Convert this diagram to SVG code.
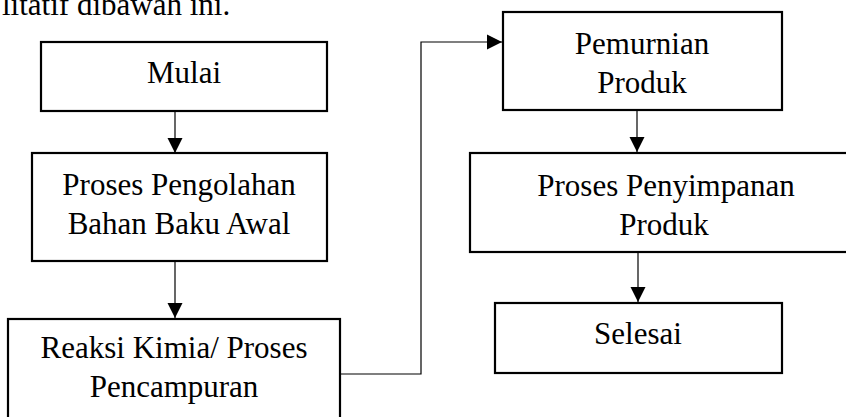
<svg xmlns="http://www.w3.org/2000/svg" width="846" height="417" viewBox="0 0 846 417">
<defs>
<style>
.box{fill:#fff;stroke:#000;stroke-width:2.2}
.lbl{font-family:"Liberation Serif","Times New Roman",serif;font-size:31px;fill:#000;text-anchor:middle}
.con{fill:none;stroke:#000;stroke-width:1.2}
</style>
<marker id="ah" markerUnits="userSpaceOnUse" markerWidth="16" markerHeight="16" viewBox="0 0 16 16" refX="15" refY="8" orient="auto">
<path d="M0,0.5 L15,8 L0,15.5 Z" fill="#000"/>
</marker>
</defs>
<rect width="846" height="417" fill="#fff"/>
<text x="2" y="15" style="font-family:'Liberation Serif','Times New Roman',serif;font-size:31px">litatif dibawah ini.</text>
<g id="connectors">
<line class="con" x1="175" y1="112" x2="175" y2="153" marker-end="url(#ah)"/>
<line class="con" x1="175" y1="262" x2="175" y2="318" marker-end="url(#ah)"/>
<polyline class="con" points="341,374 421,374 421,42 502,42" marker-end="url(#ah)"/>
<line class="con" x1="637" y1="111" x2="637" y2="152" marker-end="url(#ah)"/>
<line class="con" x1="638" y1="252" x2="638" y2="302" marker-end="url(#ah)"/>
</g>
<g id="mulai">
<rect class="box" x="41" y="42" width="286" height="69"/>
<text class="lbl" x="184" y="83">Mulai</text>
</g>
<g id="pengolahan">
<rect class="box" x="32" y="153" width="295" height="108"/>
<text class="lbl" x="179" y="195">Proses Pengolahan</text>
<text class="lbl" x="179" y="234">Bahan Baku Awal</text>
</g>
<g id="reaksi">
<rect class="box" x="8" y="319" width="332" height="120"/>
<text class="lbl" x="174" y="358">Reaksi Kimia/ Proses</text>
<text class="lbl" x="174" y="397">Pencampuran</text>
</g>
<g id="pemurnian">
<rect class="box" x="503" y="12" width="279" height="98"/>
<text class="lbl" x="642" y="54">Pemurnian</text>
<text class="lbl" x="642" y="93">Produk</text>
</g>
<g id="penyimpanan">
<rect class="box" x="470" y="153" width="392" height="99"/>
<text class="lbl" x="666" y="196">Proses Penyimpanan</text>
<text class="lbl" x="664" y="235">Produk</text>
</g>
<g id="selesai">
<rect class="box" x="495" y="303" width="287" height="70"/>
<text class="lbl" x="638" y="344">Selesai</text>
</g>
</svg>
